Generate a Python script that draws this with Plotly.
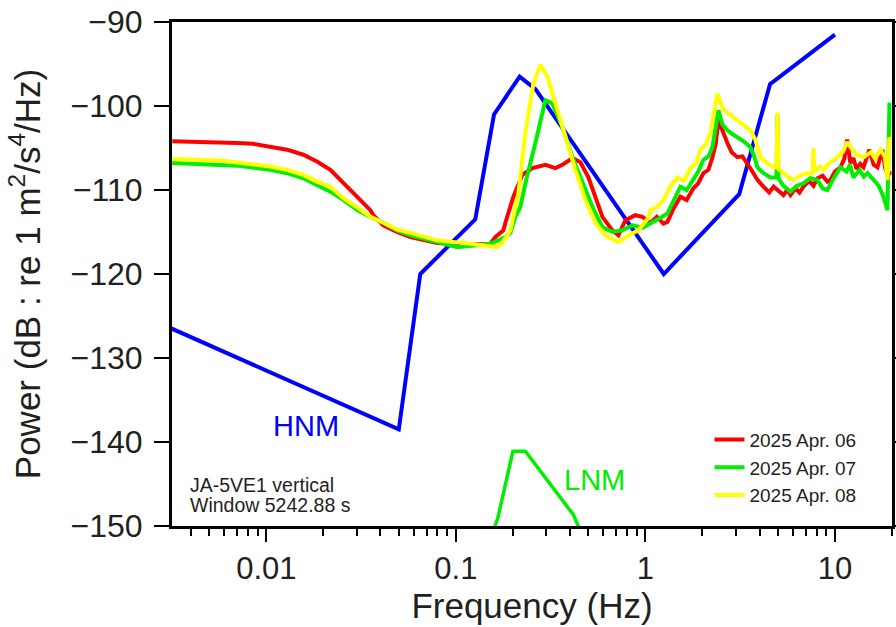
import plotly.graph_objects as go

# ---------------- data ----------------
hnm_freq = [10.0, 4.545, 3.125, 1.25, 0.263, 0.217, 0.159, 0.1266, 0.0649, 0.05, 0.00282]
hnm_db = [-91.5, -97.4, -110.5, -120.0, -98.0, -96.5, -101.0, -113.5, -120.0, -138.5, -126.0]

lnm_freq = [0.1, 0.1667, 0.2, 0.2326, 0.4167, 0.806]
lnm_db = [-163.75, -149.0, -141.1, -141.1, -148.65, -163.7]

red_freq = [0.00319, 0.00572, 0.0070, 0.00854, 0.0105, 0.01286, 0.01567, 0.0185, 0.02177, 0.02457,
            0.02776, 0.0313, 0.0354, 0.0367, 0.0414, 0.0489, 0.0575, 0.0798, 0.1193, 0.152,
            0.1616, 0.1781, 0.1825, 0.2011, 0.2244, 0.2533, 0.2967, 0.335, 0.3648, 0.412,
            0.4539, 0.5003, 0.5447, 0.593, 0.6697, 0.7202, 0.7843, 0.8856, 0.9643, 1.063,
            1.15, 1.245, 1.306, 1.4, 1.53, 1.65, 1.792, 1.9, 2.023, 2.15,
            2.258, 2.35, 2.428, 2.55, 2.708, 2.85, 3.059, 3.25, 3.454, 3.6,
            3.715, 3.9, 4.195, 4.5, 4.75, 5.0, 5.35, 5.6, 5.83, 6.2,
            6.5, 6.82, 7.3, 7.7, 8.09, 8.6, 9.13, 9.47, 10.0, 10.69,
            11.2, 11.6, 12.07, 12.5, 13.0, 13.6, 14.14, 15.2, 16.0, 16.76,
            17.8, 18.4, 18.92, 19.86]
red_db = [-104.2, -104.3, -104.4, -104.5, -104.85, -105.2, -105.8, -106.6, -107.6, -108.8,
          -110.0, -111.2, -112.4, -113.0, -114.2, -115.0, -115.6, -116.3, -116.5, -116.4,
          -115.6, -114.8, -113.9, -110.8, -108.2, -107.4, -107.0, -107.4, -107.0, -106.2,
          -106.7, -108.5, -110.8, -113.2, -114.8, -115.4, -113.6, -113.0, -113.2, -113.9,
          -113.2, -114.0, -113.8, -112.3, -110.8, -111.2, -109.8, -109.2, -108.0, -107.6,
          -106.1, -104.5, -101.7, -103.0, -104.4, -105.5, -106.1, -106.0, -106.8, -107.5,
          -108.0, -108.8, -109.6, -110.3, -109.6, -110.0, -110.6, -110.0, -110.6, -109.8,
          -110.3, -109.6, -108.9, -109.5, -108.6, -108.3, -109.0, -108.8, -107.8, -107.3,
          -106.3, -104.0, -106.8, -106.2, -107.5, -106.9, -107.3, -105.2, -107.0, -107.3,
          -105.2, -107.4, -108.0, -108.0]

green_freq = [0.00319, 0.00572, 0.0070, 0.0105, 0.01286, 0.01567, 0.0185, 0.02177, 0.02558, 0.0302,
              0.0354, 0.0414, 0.0489, 0.0575, 0.0798, 0.1018, 0.152, 0.1825, 0.194, 0.2061,
              0.219, 0.2327, 0.2627, 0.2967, 0.3229, 0.3648, 0.412, 0.465, 0.5252, 0.593,
              0.6697, 0.7561, 0.854, 0.9643, 1.089, 1.2, 1.306, 1.4, 1.53, 1.65,
              1.792, 1.9, 2.023, 2.15, 2.258, 2.428, 2.55, 2.708, 2.9, 3.059,
              3.3, 3.582, 3.75, 3.899, 4.2, 4.566, 4.913, 4.973, 5.034, 5.35,
              5.826, 6.3, 6.823, 7.4, 8.085, 8.6, 9.13, 9.8, 10.69, 11.5,
              12.0, 12.52, 13.5, 14.2, 14.84, 16.0, 17.0, 18.03, 18.92, 19.39]
green_db = [-106.8, -107.0, -107.1, -107.6, -108.0, -108.6, -109.4, -110.2, -111.2, -112.4,
            -113.2, -113.9, -114.8, -115.4, -116.2, -116.8, -116.4, -115.6, -115.1, -113.2,
            -112.0, -109.2, -104.4, -99.3, -99.7, -102.5, -106.1, -109.2, -112.0, -114.4,
            -115.0, -114.8, -114.2, -114.5, -113.9, -113.3, -112.8, -111.3, -109.6, -110.0,
            -108.8, -107.8, -106.4, -106.0, -104.9, -100.5, -102.2, -102.9, -103.4, -103.7,
            -104.2, -104.9, -106.0, -107.3, -108.0, -108.5, -108.5, -101.1, -108.6, -109.5,
            -110.2, -109.5, -109.2, -108.6, -108.8, -109.8, -110.0, -108.7, -107.3, -107.8,
            -107.0, -108.5, -107.6, -108.4, -108.0, -108.8, -109.5, -110.8, -112.4, -99.6]

yellow_freq = [0.00319, 0.00572, 0.0105, 0.01286, 0.01567, 0.0185, 0.02177, 0.02558, 0.0302, 0.0354,
               0.0414, 0.0489, 0.0575, 0.0798, 0.1193, 0.1656, 0.1759, 0.194, 0.2137, 0.2327,
               0.2565, 0.2791, 0.304, 0.335, 0.3783, 0.4273, 0.4824, 0.5447, 0.615, 0.7202,
               0.8134, 0.9186, 1.037, 1.063, 1.15, 1.245, 1.35, 1.475, 1.6, 1.728,
               1.85, 1.951, 2.08, 2.203, 2.399, 2.55, 2.708, 2.9, 3.059, 3.3,
               3.582, 3.8, 4.045, 4.4, 4.736, 4.913, 4.973, 5.034, 5.349, 5.7,
               6.039, 6.5, 7.161, 7.606, 7.699, 7.79, 8.3, 8.698, 9.3, 10.31,
               11.0, 11.6, 12.07, 13.0, 14.14, 15.5, 16.3, 17.38, 18.3, 18.92,
               19.39]
yellow_db = [-106.3, -106.5, -107.2, -107.6, -108.2, -109.0, -109.6, -111.0, -112.1, -113.2,
             -113.9, -114.7, -115.1, -116.0, -116.4, -116.8, -116.3, -114.8, -110.4, -103.2,
             -97.3, -95.1, -96.5, -99.7, -103.7, -107.6, -111.2, -113.9, -115.4, -116.2,
             -115.4, -114.8, -113.3, -112.4, -112.0, -111.2, -109.6, -108.5, -108.9, -107.4,
             -106.8, -105.2, -104.6, -103.2, -98.5, -100.2, -100.8, -101.3, -101.7, -102.2,
             -102.9, -104.0, -106.1, -106.8, -107.3, -107.3, -100.8, -107.5, -108.0, -108.5,
             -108.8, -108.3, -108.0, -108.0, -105.0, -107.8, -107.2, -107.6, -106.8, -106.1,
             -105.5, -104.3, -104.9, -105.8, -106.1, -105.5, -106.3, -105.2, -106.0, -108.8,
             -103.7]

series_names = ["2025 Apr. 06", "2025 Apr. 07", "2025 Apr. 08"]

x_tick_vals = [0.01, 0.1, 1, 10]
x_tick_text = ["0.01", "0.1", "1", "10"]
x_minor_vals = [0.004, 0.005, 0.006, 0.007, 0.008, 0.009,
                0.02, 0.03, 0.04, 0.05, 0.06, 0.07, 0.08, 0.09,
                0.2, 0.3, 0.4, 0.5, 0.6, 0.7, 0.8, 0.9,
                2, 3, 4, 5, 6, 7, 8, 9, 20]
y_tick_vals = [-90, -100, -110, -120, -130, -140, -150]

station_text = ["JA-5VE1 vertical", "Window 5242.88 s"]

# ---------------- figure ----------------
TXT = "#231f20"
FONT = "Liberation Sans, Arial, sans-serif"
BLUE = "#0000ff"
LIME = "#00ee00"
X_RANGE = [-2.4976, 1.301]

fig = go.Figure()
fig.add_trace(go.Scatter(x=hnm_freq, y=hnm_db, mode="lines", line=dict(color=BLUE, width=4),
                         showlegend=False, hoverinfo="skip"))
fig.add_trace(go.Scatter(x=lnm_freq, y=lnm_db, mode="lines", line=dict(color=LIME, width=3.5),
                         showlegend=False, hoverinfo="skip"))
for fr, db, nm, col in [(red_freq, red_db, series_names[0], "#ff0000"),
                        (green_freq, green_db, series_names[1], LIME),
                        (yellow_freq, yellow_db, series_names[2], "#ffff00")]:
    fig.add_trace(go.Scatter(x=fr, y=db, mode="lines", name=nm,
                             line=dict(color=col, width=4)))

fig.update_layout(
    width=896, height=627,
    margin=dict(l=172, r=4, t=22, b=101),
    paper_bgcolor="white", plot_bgcolor="white",
    font=dict(family=FONT, color=TXT),
    showlegend=True,
    legend=dict(x=0.7465, y=0.209, xanchor="left", yanchor="top",
                bgcolor="rgba(0,0,0,0)", font=dict(size=19, color=TXT),
                tracegroupgap=0, itemwidth=30),
    xaxis=dict(type="log", range=X_RANGE, automargin=False,
               tickmode="array", tickvals=x_tick_vals, ticktext=x_tick_text,
               ticks="outside", ticklen=13, tickwidth=1.5, tickcolor="black",
               minor=dict(tickmode="array", tickvals=x_minor_vals, ticks="outside",
                          ticklen=7, tickwidth=1.5, tickcolor="black", showgrid=False),
               showline=True, linewidth=3, linecolor="black", mirror=True,
               showgrid=False, zeroline=False,
               tickfont=dict(size=31, color=TXT),
               title=dict(text="Frequency (Hz)", font=dict(size=35, color=TXT), standoff=8)),
    xaxis2=dict(type="log", range=X_RANGE, overlaying="x", side="top", automargin=False,
                tickmode="array", tickvals=x_tick_vals, showticklabels=False,
                ticks="outside", ticklen=13, tickwidth=1.5, tickcolor="black",
                showline=False, showgrid=False, zeroline=False),
    yaxis=dict(range=[-150, -90], tickmode="array", tickvals=y_tick_vals, automargin=False,
               ticks="outside", ticklen=15, tickwidth=1.5, tickcolor="black",
               ticklabelstandoff=5,
               showline=True, linewidth=3, linecolor="black", mirror="ticks",
               showgrid=False, zeroline=False,
               tickfont=dict(size=32, color=TXT),
               title=dict(text="Power (dB : re 1 m<sup>2</sup>/s<sup>4</sup>/Hz)",
                          font=dict(size=35, color=TXT), standoff=20)),
)

fig.add_annotation(x=-1.7916, y=-138.1, xref="x", yref="y", text="HNM", showarrow=False,
                   font=dict(size=29, color=BLUE))
fig.add_annotation(x=-0.269, y=-144.5, xref="x", yref="y", text="LNM", showarrow=False,
                   font=dict(size=29, color=LIME))
fig.add_annotation(x=0.022, y=0.0813, xref="paper", yref="paper", text=station_text[0],
                   showarrow=False, xanchor="left", yanchor="middle",
                   font=dict(size=19.5, color=TXT))
fig.add_annotation(x=0.022, y=0.0417, xref="paper", yref="paper", text=station_text[1],
                   showarrow=False, xanchor="left", yanchor="middle",
                   font=dict(size=19.5, color=TXT))

fig.write_html("out.html", config={"displayModeBar": False},
               post_script="document.body.style.margin='0';document.body.style.overflow='hidden';")
